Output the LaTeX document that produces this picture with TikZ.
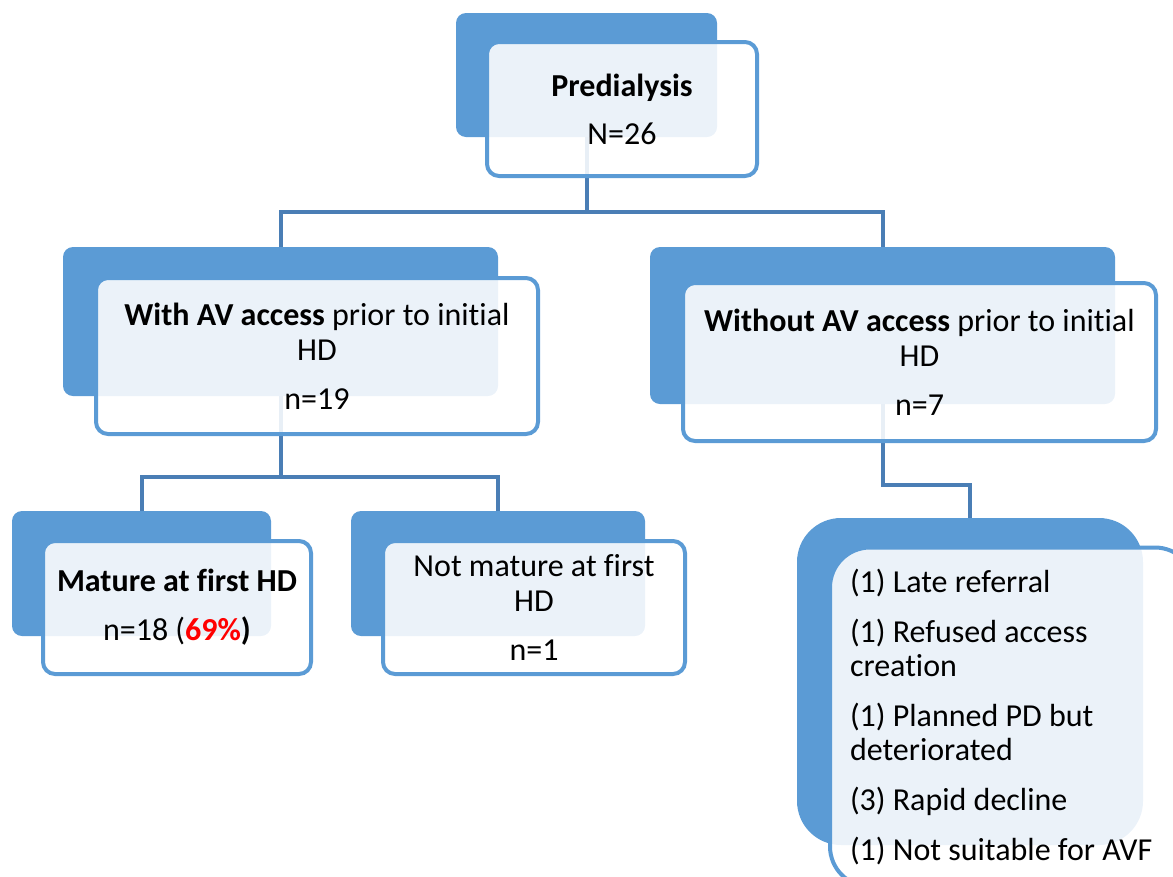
\documentclass[tikz,border=0pt]{standalone}
\usepackage{fontspec}
\setmainfont{Carlito}[Ligatures=NoCommon]
\definecolor{boxblue}{HTML}{5B9BD5}
\definecolor{connblue}{HTML}{4A7EB5}
\definecolor{pctred}{RGB}{255,0,0}
\begin{document}
\begin{tikzpicture}[x=1pt,y=-1pt,
  back/.style={fill=boxblue, draw=none, rounded corners=10pt, inner sep=0pt},
  front/.style={fill=white, fill opacity=0.88, text opacity=1, draw=boxblue, line width=4pt, rounded corners=12pt, inner sep=0pt, align=center, font=\fontsize{32}{35}\selectfont},
  conn/.style={draw=connblue, line width=4pt}]
\useasboundingbox (0,0) rectangle (1173,876);
\clip (0,0) rectangle (1173,876);
% coordinates for junctions
\coordinate (j1) at (586.5,212);
\coordinate (j2) at (280.5,477);
\coordinate (j3) at (882.5,485);
% back boxes
\node[back, minimum width=261pt, minimum height=124pt] (preb) at (586.5,75) {};
\node[back, minimum width=435pt, minimum height=149pt] (wavb) at (280.5,321.5) {};
\node[back, minimum width=465pt, minimum height=157pt] (wovb) at (882.5,325.5) {};
\node[back, minimum width=259pt, minimum height=125pt] (matb) at (141.5,573.5) {};
\node[back, minimum width=294pt, minimum height=125pt] (notb) at (498,573.5) {};
\node[back, rounded corners=44pt, minimum width=346pt, minimum height=327pt] (listb) at (970,681.5) {};
% connectors
\draw[conn] (preb.south) -- (j1);
\draw[conn] (j1) -| (wavb.north);
\draw[conn] (j1) -| (wovb.north);
\draw[conn] (wavb.south) -- (j2);
\draw[conn] (j2) -| (matb.north);
\draw[conn] (j2) -| (notb.north);
\draw[conn] (wovb.south) -- (j3) -| (listb.north);
% front boxes
\node[front, minimum width=270pt, minimum height=134pt] (pre) at (622,109)
  {\textbf{Predialysis}\\[13pt]N=26};
\node[front, minimum width=442pt, minimum height=156pt] (wav) at (317,356)
  {\textbf{With AV access} prior to initial\\HD\\[14pt]n=19};
\node[front, minimum width=473pt, minimum height=158pt] (wov) at (919.5,362)
  {\textbf{Without AV access} prior to initial\\HD\\[14pt]n=7};
\node[front, minimum width=268pt, minimum height=133pt] (mat) at (177,607.5)
  {\textbf{Mature at first HD}\\[14pt]n=18 (\textbf{\textcolor{pctred}{69\%})}};
\node[front, minimum width=302pt, minimum height=133pt] (not) at (534,607.5)
  {Not mature at first\\HD\\[14pt]n=1};
\node[front, rounded corners=40pt, align=flush left, text width=325pt, inner xsep=20pt, minimum height=339pt,
  font=\fontsize{32}{34}\selectfont] (list) at (1012.5,717)
  {(1) Late referral\\[16pt](1) Refused access\\creation\\[16pt](1) Planned PD but\\deteriorated\\[16pt](3) Rapid decline\\[16pt](1) Not suitable for AVF};
\end{tikzpicture}
\end{document}
